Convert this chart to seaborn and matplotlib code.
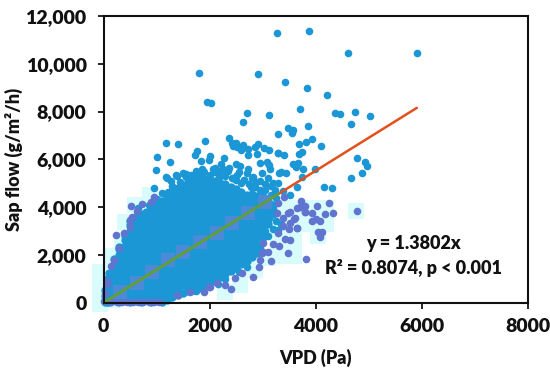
import matplotlib as mpl
import numpy as np
import pandas as pd
import seaborn as sns
from matplotlib import pyplot as plt

# sparse upper points
upper_x = [3274, 1802, 2909, 1959, 2022, 2714, 3129, 2626, 3285, 2374, 1915, 1186, 1412, 2418, 2500, 2450,
           2513, 2626, 2588, 2732, 2858, 2909, 3028, 3129, 3285, 1770, 1726, 2009, 1004, 2732, 2902, 2274,
           1845, 1996, 1255, 2211, 2494, 2947, 3079, 991, 2060, 2374, 2575, 2732, 3117, 3142, 3317, 1519,
           1192, 1381, 1883, 2198, 2525, 2714, 2985, 2826, 958, 3883, 4613, 5909, 3425, 3840, 4217, 3702,
           4374, 4457, 4740, 5028, 4670, 3481, 3581, 3557, 3853, 3928, 3826, 3689, 4098, 3292, 3406, 3740,
           3683, 4789, 4928, 4966, 4883, 4670, 3581, 3670, 3632, 3758, 3996, 3343, 3449, 3751, 3645, 3298,
           4166, 4306, 1174, 1268, 1374, 1506, 1557, 1223, 1853, 2880, 2650, 3040, 3230, 3390, 3200, 3100,
           3520, 2450, 2780, 3000,
           1300, 1450, 1600, 1650, 1780, 1900, 2000, 2100, 2180, 2300, 2420, 2350, 2500, 2600, 2650, 2750,
           2850, 2950, 3050, 3150, 3250, 1100, 1000, 850, 650, 1550, 1750, 1850, 2100, 2250, 2550, 2800,
           2950, 3150, 2950, 3000, 3050, 3100, 3200, 3250, 3350, 3120, 3300, 2700, 2550, 2300, 2150, 1750]
upper_y = [11300, 9625, 9570, 8410, 8370, 7925, 7840, 7560, 7060, 6905, 6780, 6680, 6650, 6670, 6670, 6570,
           6530, 6600, 6390, 6430, 6530, 6630, 6460, 6390, 6280, 6360, 6180, 6150, 6100, 6180, 6220, 6040,
           5915, 5960, 5890, 5820, 5800, 5860, 5900, 5540, 5580, 5650, 5720, 5580, 5760, 5580, 5440, 5385,
           5230, 5300, 5520, 5510, 5340, 5410, 5410, 5270, 4790, 11370, 10460, 10440, 9240, 8985, 8680, 8090,
           7940, 7900, 7970, 7800, 7465, 7300, 7230, 7090, 7380, 6840, 6710, 6630, 6560, 6280, 6180, 6310,
           6240, 6070, 5900, 5720, 5410, 5230, 5820, 5860, 5690, 5600, 5600, 5470, 5410, 5250, 4830, 5020,
           4830, 4810, 5260, 5080, 5345, 5415, 5270, 4645, 5415, 5050, 5130, 4950, 4720, 4660, 5000, 5240,
           4520, 5230, 4840, 4620,
           4900, 5060, 5200, 5350, 5300, 5480, 5350, 5480, 5250, 5300, 5240, 5500, 5120, 5000, 5150, 4950,
           4850, 4700, 4720, 4500, 4400, 4600, 4350, 4100, 3950, 5400, 5500, 5600, 5650, 5600, 5450, 5200,
           5100, 4900, 2300, 2700, 3000, 2800, 3100, 3400, 3300, 3550, 3050, 1500, 1300, 1000, 800, 480]

# the solid cloud, one list of y values per x column
dense_x = [20, 60, 100, 200, 300, 400, 500, 600, 700, 800, 900, 1000, 1100, 1200, 1300, 1400, 1500, 1600,
           1700, 1800, 1900, 2000, 2100, 2200, 2300, 2400, 2500, 2600, 2700, 2800, 2900, 3000, 3100, 3200]
dense_y = [
    [40, 290, 540],
    [30, 280, 530, 780, 1000],
    [20, 270, 520, 770, 1020, 1230],
    [125, 375, 625, 875, 1125, 1375, 1625, 1840],
    [20, 250, 500, 750, 1000, 1250, 1500, 1750, 2000, 2250, 2350],
    [125, 375, 625, 875, 1125, 1375, 1625, 1875, 2125, 2375, 2625, 2800],
    [30, 250, 500, 750, 1000, 1250, 1500, 1750, 2000, 2250, 2500, 2750, 3000, 3250, 3420],
    [125, 375, 625, 875, 1125, 1375, 1625, 1875, 2125, 2375, 2625, 2875, 3125, 3375, 3600],
    [40, 250, 500, 750, 1000, 1250, 1500, 1750, 2000, 2250, 2500, 2750, 3000, 3250, 3500, 3700],
    [125, 375, 625, 875, 1125, 1375, 1625, 1875, 2125, 2375, 2625, 2875, 3125, 3375, 3625, 3800],
    [30, 250, 500, 750, 1000, 1250, 1500, 1750, 2000, 2250, 2500, 2750, 3000, 3250, 3500, 3750, 4000],
    [125, 375, 625, 875, 1125, 1375, 1625, 1875, 2125, 2375, 2625, 2875, 3125, 3375, 3625, 3875, 4100],
    [30, 250, 500, 750, 1000, 1250, 1500, 1750, 2000, 2250, 2500, 2750, 3000, 3250, 3500, 3750, 4000, 4250],
    [125, 375, 625, 875, 1125, 1375, 1625, 1875, 2125, 2375, 2625, 2875, 3125, 3375, 3625, 3875, 4125, 4375,
     4500],
    [220, 500, 750, 1000, 1250, 1500, 1750, 2000, 2250, 2500, 2750, 3000, 3250, 3500, 3750, 4000, 4250, 4500,
     4680],
    [320, 625, 875, 1125, 1375, 1625, 1875, 2125, 2375, 2625, 2875, 3125, 3375, 3625, 3875, 4125, 4375, 4625,
     4820],
    [420, 750, 1000, 1250, 1500, 1750, 2000, 2250, 2500, 2750, 3000, 3250, 3500, 3750, 4000, 4250, 4500, 4750,
     4920],
    [470, 625, 875, 1125, 1375, 1625, 1875, 2125, 2375, 2625, 2875, 3125, 3375, 3625, 3875, 4125, 4375, 4625,
     4875, 5020],
    [540, 750, 1000, 1250, 1500, 1750, 2000, 2250, 2500, 2750, 3000, 3250, 3500, 3750, 4000, 4250, 4500, 4750,
     5000, 5120],
    [620, 875, 1125, 1375, 1625, 1875, 2125, 2375, 2625, 2875, 3125, 3375, 3625, 3875, 4125, 4375, 4625, 4875,
     5150],
    [720, 1000, 1250, 1500, 1750, 2000, 2250, 2500, 2750, 3000, 3250, 3500, 3750, 4000, 4250, 4500, 4750, 5000,
     5180],
    [810, 1125, 1375, 1625, 1875, 2125, 2375, 2625, 2875, 3125, 3375, 3625, 3875, 4125, 4375, 4625, 4875, 5150],
    [950, 1250, 1500, 1750, 2000, 2250, 2500, 2750, 3000, 3250, 3500, 3750, 4000, 4250, 4500, 4750, 5000, 5100],
    [1080, 1375, 1625, 1875, 2125, 2375, 2625, 2875, 3125, 3375, 3625, 3875, 4125, 4375, 4625, 4875, 5020],
    [1200, 1500, 1750, 2000, 2250, 2500, 2750, 3000, 3250, 3500, 3750, 4000, 4250, 4500, 4750, 4950],
    [1320, 1625, 1875, 2125, 2375, 2625, 2875, 3125, 3375, 3625, 3875, 4125, 4375, 4625, 4860],
    [1450, 1750, 2000, 2250, 2500, 2750, 3000, 3250, 3500, 3750, 4000, 4250, 4500, 4760],
    [1620, 1875, 2125, 2375, 2625, 2875, 3125, 3375, 3625, 3875, 4125, 4375, 4625],
    [1760, 2000, 2250, 2500, 2750, 3000, 3250, 3500, 3750, 4000, 4250, 4500],
    [1920, 2125, 2375, 2625, 2875, 3125, 3375, 3625, 3875, 4125, 4375, 4560],
    [2080, 2250, 2500, 2750, 3000, 3250, 3500, 3750, 4000, 4250, 4480],
    [2880, 3125, 3375, 3625, 3875, 4125, 4380],
    [3300, 3500, 3750, 4000, 4250],
    [3700, 3900, 4100],
]

# points that came out violet in the picture, along the edges of the cloud
violet_x = [15, 30, 60, 150, 250, 350, 450, 550, 650, 750, 850, 950, 1050, 60, 135, 242, 393, 200, 300,
            525, 720, 896, 947, 626, 543, 500, 500, 1381, 1632, 2009, 1896, 1991, 2400, 2292, 2136, 2481, 2608,
            2826, 2940, 3160, 3487, 3821, 3015, 3110, 3204, 3311, 2985, 2953, 3015, 3411, 3287, 3280, 3475,
            3392, 3613, 3708, 3802, 3645, 3506, 3392, 3298, 3425, 3726, 3802, 3645, 4034, 4260, 3802, 3940,
            4179, 4336, 4777, 3519, 3594, 3940, 4009, 4085, 3519, 3657, 4053, 4128, 4085, 3519]
violet_y = [60, 400, 800, 40, 30, 40, 20, 30, 20, 30, 20, 30, 20, 900, 1535, 2820, 2930, 1800, 2300,
            4045, 4140, 4200, 4410, 3825, 3600, 3460, 3180, 320, 460, 670, 460, 655, 560, 740, 840, 1020, 1230,
            1090, 1510, 1760, 2070, 1830, 2135, 2110, 2440, 2370, 2070, 1790, 2510, 4440, 4160, 3740, 3765,
            3530, 3530, 3990, 3810, 3110, 3070, 3210, 2900, 2650, 4256, 4050, 3980, 4060, 4185, 3785, 3765,
            3710, 3765, 3850, 3810, 3500, 3430, 3490, 3420, 3320, 3140, 2970, 2970, 2740, 2625]

# pale blocks round parts of the cloud
halo_x = [3292, 3594, 3896, 4198, 3292, 3594, 3896, 4198, 4764, 3594, 3292, 4047, 3292, 3594,
          -66, -66, -66, 160, 160, 348, 594, 877, 405, 2575, 2292, 2858, 3104]
halo_y = [3963, 3963, 3963, 3963, 3293, 3293, 3293, 3293, 3838, 2624, 2624, 2790, 1954, 1954,
          1285, 615, -50, 100, 1954, 2624, 4090, 4507, 3377, 740, 450, 1370, 1870]

# darker patches lying along the fit line
patch_x = [320, 626, 909, 1223, 1500, 1821, 2136, 2419, 2732, 3050]
patch_y = [440, 820, 1297, 1787, 2134, 2553, 2904, 3323, 3741, 4200]

line_x = [0, 5909]
line_y = [0, 8155]
green_x = [0, 3300]
green_y = [0, 4555]

xticks = [0, 2000, 4000, 6000, 8000]
yticks = [0, 2000, 4000, 6000, 8000, 10000, 12000]

sns.set_style('white')
mpl.rcParams['font.family'] = ['Lato', 'DejaVu Sans']

BLUE = '#1b97d6'
VIOLET = '#5f75cf'
HALO = '#d8fbfb'
INK = '#111111'
WEIGHT = 'heavy'

cloud = pd.DataFrame({'x': np.repeat(dense_x, [len(c) for c in dense_y]),
                      'y': np.concatenate(dense_y)})
upper = pd.DataFrame({'x': upper_x, 'y': upper_y})
violet = pd.DataFrame({'x': violet_x, 'y': violet_y})
halo = pd.DataFrame({'x': halo_x, 'y': halo_y})
patch = pd.DataFrame({'x': patch_x, 'y': patch_y})

fig = plt.figure(figsize=(5.5, 3.72), dpi=100)
ax = fig.add_axes([103.5 / 550, (372 - 302.7) / 372, 424.2 / 550, 286.7 / 372])

sns.scatterplot(ax=ax, data=halo, x='x', y='y', marker='s', s=132, color=HALO, linewidth=0,
                clip_on=False, zorder=1)
sns.scatterplot(ax=ax, data=cloud, x='x', y='y', s=36, color=BLUE, linewidth=0, clip_on=False, zorder=2)
sns.scatterplot(ax=ax, data=upper, x='x', y='y', s=30, color=BLUE, linewidth=0, zorder=2)
sns.scatterplot(ax=ax, data=violet, x='x', y='y', s=30, color=VIOLET, linewidth=0, clip_on=False, zorder=2.1)
sns.scatterplot(ax=ax, data=patch, x='x', y='y', marker='s', s=90, color='#4a8ad6', linewidth=0, zorder=2.2)
sns.lineplot(ax=ax, x=line_x, y=line_y, color='#e2501c', linewidth=1.8, zorder=3)
sns.lineplot(ax=ax, x=green_x, y=green_y, color='#5aa23e', linewidth=2.0, zorder=3.1)

ax.set_xlim(0, 8000)
ax.set_ylim(0, 12000)
ax.set_xticks(xticks)
ax.set_yticks(yticks)
ax.set_xticklabels([str(t) for t in xticks], fontsize=14, fontweight=WEIGHT)
ax.set_yticklabels([f'{t:,}' for t in yticks], fontsize=14, fontweight=WEIGHT)
ax.tick_params(axis='both', which='major', direction='out', length=4.2, width=1.2, color='black',
               bottom=True, left=True, labelcolor=INK)
ax.tick_params(axis='x', pad=7)
ax.tick_params(axis='y', pad=8)
for name, spine in ax.spines.items():
    spine.set_visible(True)
    spine.set_color(INK)
    spine.set_linewidth(1.5)
    spine.set_zorder(5)

ax.set_xlabel('VPD (Pa)', fontsize=13, fontweight=WEIGHT, color=INK, va='center')
ax.set_ylabel('Sap flow (g/m²/h)', fontsize=13, fontweight=WEIGHT, color=INK, va='center')
ax.xaxis.set_label_coords(0.5, -0.193)
ax.yaxis.set_label_coords(-0.211, 0.5)

ax.text(5850, 2480, 'y = 1.3802x', ha='center', va='center', fontsize=13, fontweight=WEIGHT, color=INK)
ax.text(5850, 1440, 'R² = 0.8074, p < 0.001', ha='center', va='center', fontsize=13, fontweight=WEIGHT,
        color=INK)

fig.savefig('out.png', dpi=100)
